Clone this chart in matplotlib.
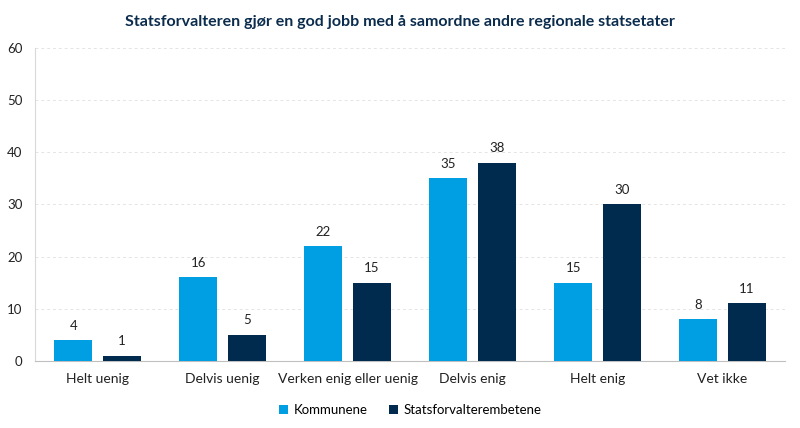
import numpy as np
import matplotlib
matplotlib.use("Agg")
import matplotlib.pyplot as plt

# Data
categories = ["Helt uenig", "Delvis uenig", "Verken enig eller uenig", "Delvis enig", "Helt enig", "Vet ikke"]
kommunene = [4, 16, 22, 35, 15, 8]
statsforvalter = [1, 5, 15, 38, 30, 11]
series_names = ["Kommunene", "Statsforvalterembetene"]
colors = ["#009fe3", "#002a4e"]

plt.rcParams["font.family"] = ["Lato", "DejaVu Sans"]

fig = plt.figure(figsize=(8, 4.28), dpi=100)
ax = fig.add_axes([0.044, 0.157, 0.937, 0.731])

x = np.arange(len(categories))
w = 0.304
off = 0.194
b1 = ax.bar(x - off, kommunene, w, color=colors[0], label=series_names[0], zorder=3)
b2 = ax.bar(x + off, statsforvalter, w, color=colors[1], label=series_names[1], zorder=3)

for bars in (b1, b2):
    for rect in bars:
        h = rect.get_height()
        ax.text(rect.get_x() + rect.get_width() / 2, h + 1.6, f"{h:g}",
                ha="center", va="bottom", fontsize=9.5, color="#222222")

ax.set_xlim(-0.5, len(categories) - 0.5)
ax.set_ylim(0, 60)
ax.set_yticks(range(0, 61, 10))
ax.set_xticks(x)
ax.set_xticklabels(categories, fontsize=10, color="#222222")
ax.tick_params(axis="y", labelsize=9.5, colors="#222222", length=0, pad=9)
ax.tick_params(axis="x", length=0, pad=9)

ax.grid(axis="y", linestyle=(0, (3, 3)), color="#e4e4e4", linewidth=0.7, zorder=0)
for s in ("top", "right"):
    ax.spines[s].set_visible(False)
ax.spines["left"].set_color("#d9d9d9")
ax.spines["bottom"].set_color("#bfbfbf")

fig.suptitle("Statsforvalteren gjør en god jobb med å samordne andre regionale statsetater",
             x=0.5, y=0.965, fontsize=11.5, fontweight="bold", color="#0b2c4d")

ax.legend(loc="upper center", bbox_to_anchor=(0.5, -0.1), ncol=2, frameon=False,
          fontsize=9.5, handlelength=0.7, handleheight=0.7, handletextpad=0.4, columnspacing=1.6)

fig.savefig("out.png", dpi=100)
